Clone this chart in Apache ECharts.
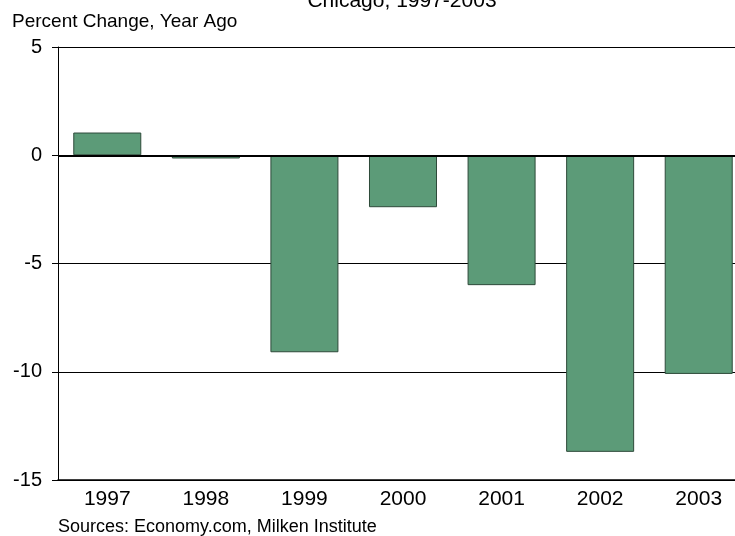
<!DOCTYPE html>
<html>
<head>
<meta charset="utf-8">
<script src="https://cdn.jsdelivr.net/npm/echarts@6/dist/echarts.min.js"></script>
<style>
  html, body { margin: 0; padding: 0; background: #fff; }
  #chart { width: 735px; height: 536px; }
</style>
</head>
<body>
<div id="chart"></div>
<script>
const years = ["1997", "1998", "1999", "2000", "2001", "2002", "2003"];
const pctChange = [1.05, -0.15, -9.1, -2.4, -6.0, -13.7, -10.1];

const c = echarts.init(document.getElementById("chart"));
const font = "Liberation Sans, Arial, sans-serif";

c.setOption({
  animation: false,
  title: {
    text: "Chicago, 1997-2003",
    left: 397, top: -14, textAlign: "center",
    textStyle: { fontFamily: font, fontSize: 21, fontWeight: "normal", color: "#000" }
  },
  graphic: [
    { type: "text", left: 12, top: 12,
      style: { text: "Percent Change, Year Ago", font: "19px " + font, fill: "#000" } },
    { type: "text", left: 58, top: 518,
      style: { text: "Sources: Economy.com, Milken Institute", font: "18px " + font, fill: "#000" } }
  ],
  grid: { left: 58, width: 690, top: 47, height: 433, outerBoundsMode: "none", containLabel: false },
  xAxis: {
    type: "category",
    data: years,
    axisLine: { onZero: false, lineStyle: { color: "#000", width: 1.5 } },
    axisTick: { length: 7, lineStyle: { color: "#000" } },
    axisLabel: { color: "#000", fontFamily: font, fontSize: 21, margin: 9 }
  },
  yAxis: {
    type: "value",
    min: -15, max: 5, interval: 5,
    axisLine: { show: true, lineStyle: { color: "#000" } },
    axisTick: { show: true, length: 6, lineStyle: { color: "#000" } },
    axisLabel: { color: "#000", fontFamily: font, fontSize: 20, margin: 16 },
    splitLine: { lineStyle: { color: "#000", width: 1 } }
  },
  series: [{
    type: "bar",
    data: pctChange,
    barWidth: "69%",
    itemStyle: { color: "#5c9b78", borderColor: "#2e4a3a", borderWidth: 1 },
    markLine: {
      silent: true, symbol: "none", label: { show: false },
      lineStyle: { color: "#000", width: 2, type: "solid" },
      data: [{ yAxis: 0 }]
    }
  }]
});
</script>
</body>
</html>
